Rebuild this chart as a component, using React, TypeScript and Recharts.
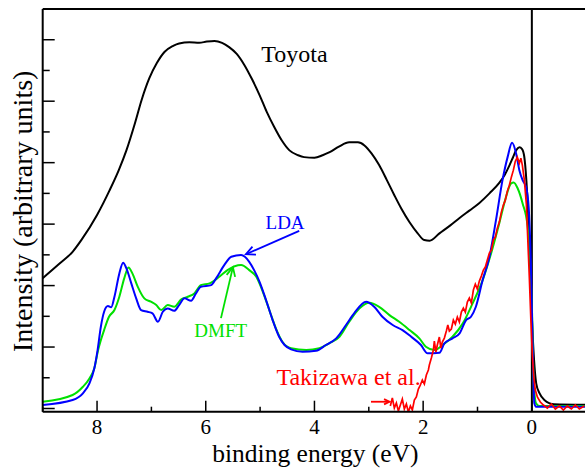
import { LineChart, Line, XAxis, YAxis, ReferenceLine, ReferenceDot } from "recharts";

const SERIF = '"Liberation Serif", "Times New Roman", serif';

// [binding energy (eV), intensity (arb. units)]
const toyota: [number, number][] = [
  [9.0, 2.12], [8.7, 2.35], [8.45, 2.55], [8.29, 2.74], [8.0, 3.15], [7.77, 3.55],
  [7.6, 3.88], [7.46, 4.2], [7.3, 4.65], [7.18, 5.02], [7.04, 5.37], [6.9, 5.62],
  [6.76, 5.8], [6.6, 5.9], [6.49, 5.94], [6.3, 5.96], [6.12, 5.95], [5.98, 5.97],
  [5.84, 5.98], [5.7, 5.95], [5.57, 5.88], [5.43, 5.77], [5.29, 5.59], [5.15, 5.36],
  [5.01, 5.1], [4.88, 4.83], [4.74, 4.58], [4.6, 4.36], [4.46, 4.2], [4.3, 4.12],
  [4.19, 4.09], [4.0, 4.08], [3.85, 4.12], [3.72, 4.17], [3.55, 4.26], [3.36, 4.33],
  [3.2, 4.33], [3.08, 4.28], [2.95, 4.15], [2.81, 3.96], [2.67, 3.72], [2.53, 3.47],
  [2.4, 3.25], [2.25, 3.03], [2.1, 2.85], [1.98, 2.74], [1.88, 2.73], [1.7, 2.85],
  [1.5, 2.98], [1.33, 3.1], [1.15, 3.22], [0.97, 3.34], [0.78, 3.5], [0.6, 3.67],
  [0.5, 3.8], [0.41, 3.96], [0.35, 4.08], [0.29, 4.2], [0.23, 4.25], [0.18, 4.22],
  [0.14, 4.1], [0.1, 3.7], [0.06, 3.0], [0.02, 2.0], [0.0, 1.5], [-0.04, 0.8],
  [-0.08, 0.41], [-0.14, 0.25], [-0.23, 0.14], [-0.41, 0.07], [-1.0, 0.06],
];

const lda: [number, number][] = [
  [9.0, 0.057], [8.45, 0.138], [8.26, 0.247], [8.14, 0.41], [8.05, 0.654], [7.99, 0.951],
  [7.93, 1.33], [7.87, 1.574], [7.8, 1.667], [7.74, 1.646], [7.68, 1.818], [7.59, 2.198],
  [7.52, 2.371], [7.46, 2.28], [7.37, 2.036], [7.28, 1.792], [7.19, 1.602], [7.07, 1.574],
  [6.98, 1.548], [6.88, 1.411], [6.79, 1.574], [6.7, 1.629], [6.58, 1.59], [6.49, 1.683],
  [6.39, 1.792], [6.27, 1.753], [6.18, 1.873], [6.09, 1.98], [5.9, 2.008], [5.81, 2.117],
  [5.66, 2.333], [5.53, 2.468], [5.35, 2.496], [5.2, 2.387], [5.11, 2.252], [5.01, 2.062],
  [4.89, 1.764], [4.77, 1.439], [4.65, 1.167], [4.55, 1.033], [4.43, 0.963], [4.22, 0.924],
  [3.97, 0.94], [3.79, 1.033], [3.6, 1.141], [3.42, 1.358], [3.27, 1.548], [3.05, 1.737],
  [2.9, 1.655], [2.75, 1.493], [2.56, 1.358], [2.38, 1.276], [2.22, 1.167], [2.04, 1.033],
  [1.92, 0.898], [1.7, 0.907], [1.61, 1.06], [1.46, 1.141], [1.33, 1.223], [1.21, 1.439],
  [1.12, 1.493], [1.03, 1.655], [0.905, 2.089], [0.78, 2.468], [0.66, 3.065], [0.54, 3.715],
  [0.445, 4.094], [0.364, 4.322], [0.29, 4.15], [0.23, 3.878], [0.17, 3.715], [0.107, 3.606],
  [0.059, 3.281], [0.015, 2.252], [-0.015, 1.005], [-0.046, 0.085], [-0.077, 0.03], [-1.0, 0.03],
];

const dmft: [number, number][] = [
  [9.0, 0.11], [8.45, 0.22], [8.26, 0.354], [8.14, 0.49], [8.05, 0.654], [7.98, 0.951],
  [7.87, 1.276], [7.78, 1.493], [7.68, 1.602], [7.59, 1.818], [7.5, 2.117], [7.42, 2.296],
  [7.35, 2.198], [7.25, 1.98], [7.13, 1.792], [7.01, 1.737], [6.91, 1.683], [6.82, 1.602],
  [6.7, 1.683], [6.58, 1.655], [6.45, 1.776], [6.33, 1.818], [6.21, 1.873], [6.09, 2.008],
  [5.93, 2.036], [5.75, 2.143], [5.6, 2.252], [5.35, 2.333], [5.2, 2.252], [5.07, 2.143],
  [4.95, 1.899], [4.83, 1.602], [4.71, 1.304], [4.59, 1.086], [4.43, 0.979], [4.15, 0.951],
  [3.91, 0.979], [3.73, 1.06], [3.54, 1.167], [3.36, 1.411], [3.17, 1.629], [2.99, 1.72],
  [2.81, 1.655], [2.62, 1.52], [2.44, 1.411], [2.25, 1.276], [2.07, 1.141], [1.95, 1.005],
  [1.79, 0.951], [1.64, 1.033], [1.46, 1.167], [1.27, 1.385], [1.09, 1.711], [0.905, 2.089],
  [0.75, 2.524], [0.6, 3.011], [0.475, 3.444], [0.383, 3.662], [0.335, 3.678], [0.26, 3.58],
  [0.17, 3.337], [0.077, 2.956], [0.028, 2.361], [-0.004, 1.548], [-0.033, 0.463],
  [-0.077, 0.085], [-0.14, 0.04], [-1.0, 0.04],
];

const takizawa: [number, number][] = [
  [2.604, 0.041], [2.567, 0.171], [2.53, 0.008], [2.493, 0.089], [2.456, -0.041], [2.419, 0.057],
  [2.383, 0.154], [2.346, -0.008], [2.309, 0.073], [2.272, -0.057], [2.235, 0.041], [2.199, -0.024],
  [2.162, 0.138], [2.125, 0.187], [2.088, 0.317], [2.051, 0.382], [2.015, 0.463], [1.978, 0.398],
  [1.941, 0.545], [1.904, 0.626], [1.886, 0.707], [1.849, 0.821], [1.812, 0.951], [1.794, 1.098],
  [1.766, 0.919], [1.739, 1.033], [1.702, 1.163], [1.674, 0.984], [1.647, 1.081], [1.61, 1.146],
  [1.573, 1.26], [1.546, 1.358], [1.518, 1.26], [1.481, 1.293], [1.444, 1.439], [1.408, 1.374],
  [1.371, 1.488], [1.334, 1.407], [1.297, 1.569], [1.26, 1.634], [1.224, 1.569], [1.187, 1.732],
  [1.15, 1.797], [1.113, 1.715], [1.076, 1.927], [1.04, 2.024], [1.003, 1.943], [0.966, 2.073],
  [0.929, 2.154], [0.892, 2.252], [0.856, 2.301], [0.819, 2.415], [0.782, 2.528], [0.745, 2.577],
  [0.708, 2.74], [0.672, 2.789], [0.635, 2.935], [0.598, 3.033], [0.561, 3.195], [0.524, 3.309],
  [0.488, 3.39], [0.451, 3.537], [0.414, 3.634], [0.377, 3.764], [0.34, 3.878], [0.304, 4.024],
  [0.267, 4.089], [0.23, 3.992], [0.202, 4.073], [0.175, 3.959], [0.138, 3.715], [0.101, 3.325],
  [0.074, 2.74], [0.046, 2.122], [0.018, 1.439], [-0.009, 0.87], [-0.037, 0.496], [-0.064, 0.301],
  [-0.101, 0.187], [-0.156, 0.106], [-0.212, 0.057], [-0.285, 0.008], [-0.359, 0.073],
  [-0.432, -0.008], [-0.506, 0.041], [-0.58, -0.024], [-0.653, 0.041], [-0.727, -0.008],
  [-0.8, 0.057], [-0.874, -0.008], [-0.966, 0.041],
];

const energyTicks = [9, 8, 7, 6, 5, 4, 3, 2, 1, 0, -1];
const intensityTicks = [0, 0.5, 1, 1.5, 2, 2.5, 3, 3.5, 4, 4.5, 5, 5.5, 6];

const rows = (pts: [number, number][]) => pts.map(([e, i]) => ({ e, i }));

const isMajorE = (v: number) => v % 2 === 0;

const BottomTick = ({ x, y, payload }: any) => {
  const v = payload.value;
  const major = isMajorE(v);
  return (
    <g>
      <line x1={x} y1={y} x2={x} y2={y - (major ? 11 : 5)} stroke="#000" strokeWidth={1.5} />
      {major && (
        <text x={x} y={y + 22.5} textAnchor="middle" fontSize={21} fontFamily={SERIF} fill="#000">
          {v}
        </text>
      )}
    </g>
  );
};

const TopTick = ({ x, y, payload }: any) => (
  <line x1={x} y1={y} x2={x} y2={y + (isMajorE(payload.value) ? 11 : 5)} stroke="#000" strokeWidth={1.5} />
);

const LeftTick = ({ x, y, payload }: any) => (
  <line x1={x} y1={y} x2={x + (Number.isInteger(payload.value) ? 12 : 7)} y2={y} stroke="#000" strokeWidth={1.5} />
);

const RightTick = ({ x, y, payload }: any) => (
  <line x1={x} y1={y} x2={x - (Number.isInteger(payload.value) ? 12 : 6)} y2={y} stroke="#000" strokeWidth={1.5} />
);

const arrow = (color: string, head = 10) => (p: any) => {
  const { x1, y1, x2, y2 } = p;
  const a = Math.atan2(y2 - y1, x2 - x1);
  const w = 0.45;
  const ax = x2 - head * Math.cos(a - w);
  const ay = y2 - head * Math.sin(a - w);
  const bx = x2 - head * Math.cos(a + w);
  const by = y2 - head * Math.sin(a + w);
  return (
    <g>
      <line x1={x1} y1={y1} x2={x2} y2={y2} stroke={color} strokeWidth={1.8} />
      <polyline points={`${ax},${ay} ${x2},${y2} ${bx},${by}`} fill="none" stroke={color} strokeWidth={1.8} />
    </g>
  );
};

const note = (text: string, color: string, size: number) => (p: any) => (
  <text x={p.viewBox.x} y={p.viewBox.y} fill={color} fontSize={size} fontFamily={SERIF}>
    {text}
  </text>
);

export default function App() {
  return (
    <div style={{ position: "fixed", left: 0, top: 0, width: 585, height: 468, overflow: "hidden", background: "#fff" }}>
      <LineChart width={600} height={468} margin={{ top: 8, right: 12.8, bottom: 55.3, left: 41.7 }}>
        <XAxis
          xAxisId="b"
          dataKey="e"
          type="number"
          domain={[-1, 9]}
          reversed
          allowDataOverflow
          ticks={energyTicks}
          interval={0}
          height={1}
          tickSize={0}
          tickMargin={0}
          tickLine={false}
          tick={BottomTick}
          axisLine={{ stroke: "#000", strokeWidth: 2 }}
          label={(p: any) => (
            <text
              x={p.viewBox.x + p.viewBox.width / 2 + 1}
              y={p.viewBox.y + 50.3}
              textAnchor="middle"
              fontSize={25.5}
              fontFamily={SERIF}
              fill="#000"
            >
              binding energy (eV)
            </text>
          )}
        />
        <XAxis
          xAxisId="t"
          orientation="top"
          type="number"
          domain={[-1, 9]}
          reversed
          ticks={energyTicks}
          interval={0}
          height={1}
          tickSize={0}
          tickMargin={0}
          tickLine={false}
          tick={TopTick}
          axisLine={{ stroke: "#000", strokeWidth: 2 }}
        />
        <YAxis
          yAxisId="l"
          type="number"
          domain={[-0.052, 6.5]}
          allowDataOverflow
          ticks={intensityTicks}
          interval={0}
          width={1}
          tickSize={0}
          tickMargin={0}
          tickLine={false}
          tick={LeftTick}
          axisLine={{ stroke: "#000", strokeWidth: 2 }}
          label={(p: any) => {
            const cx = p.viewBox.x - 10;
            const cy = p.viewBox.y + p.viewBox.height / 2 + 1;
            return (
              <text
                x={cx}
                y={cy}
                transform={`rotate(-90 ${cx} ${cy})`}
                textAnchor="middle"
                fontSize={28}
                fontFamily={SERIF}
                fill="#000"
              >
                Intensity (arbitrary units)
              </text>
            );
          }}
        />
        <YAxis
          yAxisId="r"
          orientation="right"
          type="number"
          domain={[-0.052, 6.5]}
          ticks={intensityTicks}
          interval={0}
          width={1}
          tickSize={0}
          tickMargin={0}
          tickLine={false}
          tick={RightTick}
          axisLine={{ stroke: "#000", strokeWidth: 2 }}
        />

        <ReferenceLine xAxisId="b" yAxisId="l" x={0} stroke="#000" strokeWidth={2} />

        <Line data={rows(toyota)} dataKey="i" xAxisId="b" yAxisId="l" type="monotone" stroke="#000" strokeWidth={2} dot={false} isAnimationActive={false} />
        <Line data={rows(dmft)} dataKey="i" xAxisId="b" yAxisId="l" type="monotone" stroke="#00e000" strokeWidth={2} dot={false} isAnimationActive={false} />
        <Line data={rows(lda)} dataKey="i" xAxisId="b" yAxisId="l" type="monotone" stroke="#0000ff" strokeWidth={2} dot={false} isAnimationActive={false} />
        <Line data={rows(takizawa)} dataKey="i" xAxisId="b" yAxisId="l" type="linear" stroke="#ff0000" strokeWidth={1.7} dot={false} isAnimationActive={false} />

        <ReferenceLine xAxisId="b" yAxisId="l" segment={[{ x: 4.28, y: 2.89 }, { x: 5.26, y: 2.51 }]} shape={arrow("#0000ff")} />
        <ReferenceLine xAxisId="b" yAxisId="l" segment={[{ x: 5.72, y: 1.47 }, { x: 5.5, y: 2.3 }]} shape={arrow("#00e000")} />
        <ReferenceLine xAxisId="b" yAxisId="l" segment={[{ x: 2.96, y: 0.11 }, { x: 2.62, y: 0.11 }]} shape={arrow("#ff0000", 6)} />

        <ReferenceDot xAxisId="b" yAxisId="l" x={4.977} y={5.634} r={0} stroke="none" label={note("Toyota", "#000", 24)} />
        <ReferenceDot xAxisId="b" yAxisId="l" x={4.9} y={2.92} r={0} stroke="none" label={note("LDA", "#0000ff", 19)} />
        <ReferenceDot xAxisId="b" yAxisId="l" x={6.21} y={1.163} r={0} stroke="none" label={note("DMFT", "#00e000", 19)} />
        <ReferenceDot xAxisId="b" yAxisId="l" x={4.7} y={0.382} r={0} stroke="none" label={note("Takizawa et al.", "#ff0000", 24)} />
      </LineChart>
    </div>
  );
}
